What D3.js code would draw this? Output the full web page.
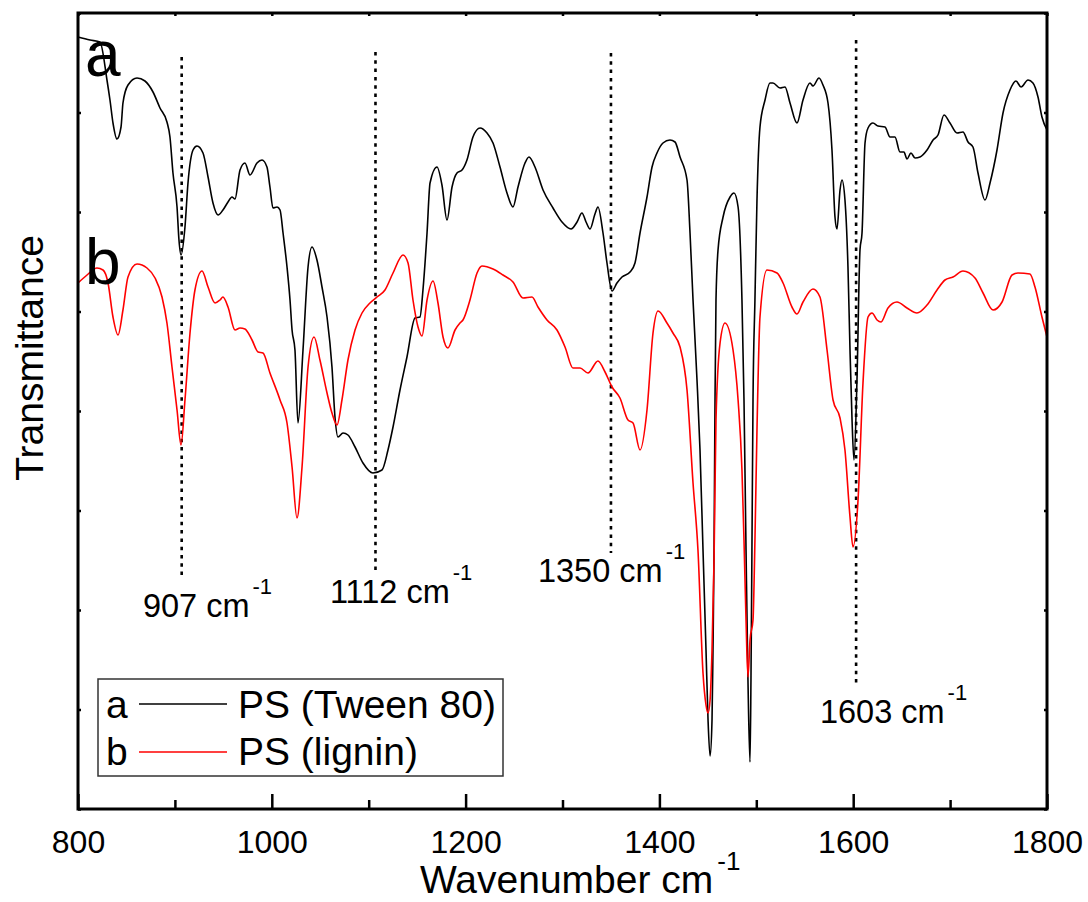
<!DOCTYPE html>
<html>
<head>
<meta charset="utf-8">
<script src="https://cdn.jsdelivr.net/npm/d3@7/dist/d3.min.js"></script>
<style>
  html, body { margin: 0; padding: 0; background: #fff; }
  svg { display: block; font-family: "Liberation Sans", Arial, sans-serif; }
</style>
</head>
<body>
<svg id="chart" width="1088" height="902"></svg>
<script>
// ---- Data (wavenumber cm^-1, transmittance in arbitrary units) ----
const seriesA = [ // PS (Tween 80)
[800,772],[812.4,769],[822.7,767],[829.9,729],[833.0,709],[836.1,686],[840.2,670],[844.4,682],[846.4,706],[851.6,724],
[860.9,731],[869.1,728],[877.4,717],[884.6,701],[891.8,687],[894.9,672],[898.0,636],[902.2,602],[904.2,569],[906.3,554],
[910.4,582],[913.5,626],[918.7,659],[922.8,663],[929.0,656],[934.2,632],[939.3,606],[944.5,594],[949.6,599],[954.8,607],
[958.9,612],[962.0,610],[967.2,639],[972.3,646],[977.5,634],[984.7,646],[989.9,649],[995.0,642],[998.1,622],[1001.2,601],
[1005.4,602],[1008.5,599],[1011.6,576],[1015.7,542],[1018.8,509],[1020.9,479],[1023.9,459],[1027.0,386],[1032.2,459],[1037.4,542],
[1041.5,562],[1046.6,549],[1051.8,522],[1057.0,492],[1062.1,442],[1065.2,392],[1068.3,372],[1073.5,376],[1078.6,374],[1085.9,362],
[1094.1,346],[1104.4,336],[1113.7,339],[1119.9,359],[1125.1,382],[1132.3,419],[1139.5,452],[1147.8,491],[1152.9,492],[1156.0,519],
[1160.2,576],[1163.3,626],[1170.5,642],[1175.6,624],[1180.8,589],[1186.0,622],[1191.1,636],[1196.3,639],[1201.4,649],[1207.6,672],
[1214.9,681],[1222.1,676],[1228.3,666],[1235.5,642],[1242.7,616],[1248.9,602],[1254.1,622],[1261.3,646],[1265.4,652],[1271.6,642],
[1279.9,619],[1290.2,601],[1299.5,587],[1308.8,580],[1315.0,587],[1320.1,596],[1324.3,587],[1328.4,580],[1333.5,595],[1336.6,602],
[1341.8,576],[1345.9,546],[1351.1,518],[1356.2,526],[1361.4,532],[1369.7,537],[1374.8,546],[1380.0,576],[1387.2,612],[1392.4,642],
[1397.5,656],[1403.7,666],[1410.9,669],[1416.1,667],[1421.3,652],[1428.5,629],[1431.6,576],[1434.7,509],[1438.8,429],[1441.9,359],
[1445.0,259],[1448.1,159],[1450.2,89],[1452.3,53],[1454.3,89],[1455.3,159],[1456.4,259],[1457.4,409],[1458.4,509],[1460.5,559],
[1465.7,592],[1472.9,612],[1477.0,616],[1481.2,602],[1485.2,509],[1487.3,409],[1489.4,259],[1491.4,129],[1493.5,47],[1494.5,129],
[1495.5,259],[1496.6,409],[1498.6,509],[1500.7,609],[1503.8,682],[1509.0,709],[1514.1,726],[1517.2,726],[1524.5,721],[1529.6,722],
[1534.8,706],[1542.0,686],[1548.2,709],[1555.4,726],[1558.5,723],[1564.7,731],[1568.8,724],[1574.0,706],[1578.1,659],[1581.2,592],
[1583.3,580],[1586.4,619],[1588.4,629],[1591.5,609],[1594.6,542],[1596.7,459],[1598.8,389],[1600.8,349],[1603.9,429],[1607.0,559],
[1609.1,576],[1612.2,666],[1615.3,681],[1620.4,686],[1625.6,683],[1632.8,682],[1638.0,672],[1643.1,672],[1648.3,657],[1652.4,657],
[1655.5,650],[1659.6,656],[1663.8,651],[1668.9,652],[1676.2,659],[1682.4,669],[1687.5,674],[1693.7,694],[1699.9,686],[1707.1,676],
[1713.3,677],[1718.5,667],[1723.6,662],[1728.8,636],[1736.0,609],[1741.2,626],[1748.4,659],[1754.6,696],[1761.8,719],[1768.0,728],
[1773.2,722],[1780.4,729],[1785.5,726],[1790.7,712],[1794.8,692],[1800,679]
];

const seriesB = [ // PS (lignin)
[800,526],[809.3,534],[819.6,541],[825.8,539],[831.0,526],[836.1,492],[841.3,474],[846.4,499],[851.6,532],[860.9,545],
[871.2,541],[879.5,531],[886.7,512],[891.8,486],[897.0,442],[902.2,399],[906.3,364],[910.4,409],[915.6,476],[920.7,519],
[928.0,538],[934.2,522],[941.4,506],[946.5,509],[949.6,512],[954.8,502],[962.0,479],[967.2,481],[972.3,480],[979.6,469],
[985.8,457],[990.9,456],[998.1,436],[1008.5,409],[1015.7,386],[1020.9,342],[1026.0,291],[1031.2,342],[1037.4,442],[1043.6,472],
[1049.7,449],[1057.0,416],[1062.1,396],[1067.3,384],[1072.4,409],[1078.6,449],[1085.9,479],[1093.1,496],[1101.3,506],[1108.6,512],
[1116.8,519],[1125.1,536],[1135.4,554],[1140.6,546],[1145.7,509],[1150.9,482],[1155.0,473],[1160.2,509],[1166.4,528],[1171.5,506],
[1176.7,472],[1181.8,461],[1189.1,479],[1194.2,486],[1197.3,489],[1204.5,509],[1211.8,536],[1216.9,543],[1228.3,540],[1238.6,534],
[1248.9,527],[1259.2,511],[1268.5,512],[1274.7,502],[1284.0,489],[1294.3,479],[1302.6,462],[1310.8,441],[1318.1,441],[1326.3,436],
[1336.6,448],[1343.9,437],[1351.1,422],[1359.3,411],[1367.6,389],[1372.8,386],[1380.0,359],[1387.2,399],[1393.4,476],[1398.6,498],
[1407.8,486],[1414.0,476],[1421.3,462],[1428.5,419],[1434.7,326],[1439.8,259],[1445.0,136],[1448.1,104],[1450.2,96],[1452.3,109],
[1454.3,159],[1456.4,249],[1458.4,389],[1462.6,466],[1467.7,486],[1476.0,459],[1481.2,409],[1485.2,339],[1487.3,269],[1489.4,189],
[1491.4,132],[1493.5,169],[1496.6,189],[1498.6,269],[1500.7,379],[1503.8,492],[1511.0,539],[1521.4,536],[1527.6,526],[1536.8,502],
[1542.0,495],[1548.2,507],[1558.5,520],[1565.7,512],[1573.0,459],[1579.2,409],[1586.4,391],[1591.5,359],[1596.7,292],[1599.8,262],
[1605.0,309],[1610.1,426],[1615.3,492],[1619.4,496],[1624.6,489],[1628.7,487],[1635.9,501],[1645.2,507],[1655.5,501],[1665.8,496],
[1676.2,504],[1686.5,519],[1694.7,529],[1703.0,532],[1713.3,538],[1725.7,531],[1734.0,516],[1744.3,499],[1753.6,507],[1763.9,534],
[1770.1,536],[1782.4,535],[1787.6,522],[1794.8,492],[1800,472]
];

const seriesNames = ["PS (Tween 80)", "PS (lignin)"];
const seriesKeys = ["a", "b"];
const seriesColors = ["#000000", "#ff0000"];

const xMajorTicks = [800, 1000, 1200, 1400, 1600, 1800];
const xMinorTicks = [900, 1100, 1300, 1500, 1700];
const xTopTicks = [800, 900, 1000, 1100, 1200, 1300, 1400, 1500, 1600, 1700, 1800];
const yTicks = d3.range(0, 797, 99.5);

// peak markers: position of dotted line, label value, line extent (y), label anchor
const peakLines   = [907, 1107, 1350, 1603];
const peakLabels  = ["907", "1112", "1350", "1603"];
const peakTop     = [752, 757, 756, 769];
const peakBottom  = [229, 234, 256, 122];
const labelX      = [867, 1060, 1274.7, 1565.7];
const labelY      = [192, 206, 227, 86];

// ---- Layout ----
const svg = d3.select("#chart");
const L = 78, R = 1047, T = 13, B = 809;
const x = d3.scaleLinear().domain([800, 1800]).range([L, R]);
const y = d3.scaleLinear().domain([0, 796]).range([B, T]);

// axes
function styleAxis(g) {
  g.select(".domain").remove();
  g.selectAll(".tick line").attr("stroke", "#000").attr("stroke-width", 2.5);
}
svg.append("g").attr("transform", `translate(0,${B})`)
  .call(d3.axisBottom(x).tickValues(xMajorTicks).tickSizeInner(-15).tickSizeOuter(0).tickPadding(21).tickFormat(d3.format("d")))
  .call(styleAxis)
  .call(g => g.selectAll("text").attr("font-size", 32).attr("fill", "#000")
     .attr("font-family", '"Liberation Sans", Arial, sans-serif'));
svg.append("g").attr("transform", `translate(0,${B})`)
  .call(d3.axisBottom(x).tickValues(xMinorTicks).tickSizeInner(-9).tickSizeOuter(0).tickFormat(""))
  .call(styleAxis);
svg.append("g").attr("transform", `translate(0,${T})`)
  .call(d3.axisTop(x).tickValues(xTopTicks).tickSizeInner(-3).tickSizeOuter(0).tickFormat(""))
  .call(styleAxis);
svg.append("g").attr("transform", `translate(${L},0)`)
  .call(d3.axisLeft(y).tickValues(yTicks).tickSizeInner(-3).tickSizeOuter(0).tickFormat(""))
  .call(styleAxis);
svg.append("g").attr("transform", `translate(${R},0)`)
  .call(d3.axisRight(y).tickValues(yTicks).tickSizeInner(-3).tickSizeOuter(0).tickFormat(""))
  .call(styleAxis);

// peak dotted lines
peakLines.forEach((p, i) => {
  svg.append("line")
    .attr("x1", x(p)).attr("x2", x(p))
    .attr("y1", y(peakTop[i])).attr("y2", y(peakBottom[i]))
    .attr("stroke", "#000").attr("stroke-width", 2.6)
    .attr("stroke-dasharray", "3.5,4.8");
});

// curves
const line = d3.line().x(d => x(d[0])).y(d => y(d[1])).curve(d3.curveMonotoneX);
[seriesA, seriesB].forEach((s, i) => {
  svg.append("path").datum(s)
    .attr("d", line)
    .attr("fill", "none")
    .attr("stroke", seriesColors[i])
    .attr("stroke-width", 1.6)
    .attr("stroke-linejoin", "round");
});

// frame
svg.append("rect").attr("x", L).attr("y", T).attr("width", R - L).attr("height", B - T)
  .attr("fill", "none").attr("stroke", "#000").attr("stroke-width", 3);

// labels with superscript
function supLabel(px, py, main, sup, size, supSize, raise, gap) {
  const t = svg.append("text").attr("x", px).attr("y", py)
    .attr("font-size", size).attr("fill", "#000");
  t.append("tspan").text(main);
  t.append("tspan").attr("dx", gap).attr("dy", -raise).attr("font-size", supSize).text(sup);
  return t;
}
peakLabels.forEach((lab, i) => {
  supLabel(x(labelX[i]), y(labelY[i]), lab + " cm", "-1", 32.5, 22, 23, 3);
});

// curve letters
svg.append("text").attr("x", 85).attr("y", 76).attr("font-size", 64).attr("fill", "#000").text(seriesKeys[0]);
svg.append("text").attr("x", 85).attr("y", 284).attr("font-size", 64).attr("fill", "#000").text(seriesKeys[1]);

// axis titles
supLabel(420, 893, "Wavenumber cm", "-1", 39, 26, 23, 4);
svg.append("text")
  .attr("transform", "translate(43,358) rotate(-90)")
  .attr("text-anchor", "middle").attr("font-size", 39).attr("fill", "#000")
  .text("Transmittance");

// legend
const lg = svg.append("g");
lg.append("rect").attr("x", 98).attr("y", 679).attr("width", 405).attr("height", 97)
  .attr("fill", "#fff").attr("stroke", "#333").attr("stroke-width", 1.5);
const rowsY = [718, 765];
const lineY = [704, 752];
seriesNames.forEach((n, i) => {
  lg.append("text").attr("x", 106).attr("y", rowsY[i]).attr("font-size", 39).attr("fill", "#000").text(seriesKeys[i]);
  lg.append("line").attr("x1", 139).attr("x2", 227).attr("y1", lineY[i]).attr("y2", lineY[i])
    .attr("stroke", seriesColors[i]).attr("stroke-width", 1.5);
  lg.append("text").attr("x", 238).attr("y", rowsY[i]).attr("font-size", 39).attr("fill", "#000").text(n);
});
</script>
</body>
</html>
